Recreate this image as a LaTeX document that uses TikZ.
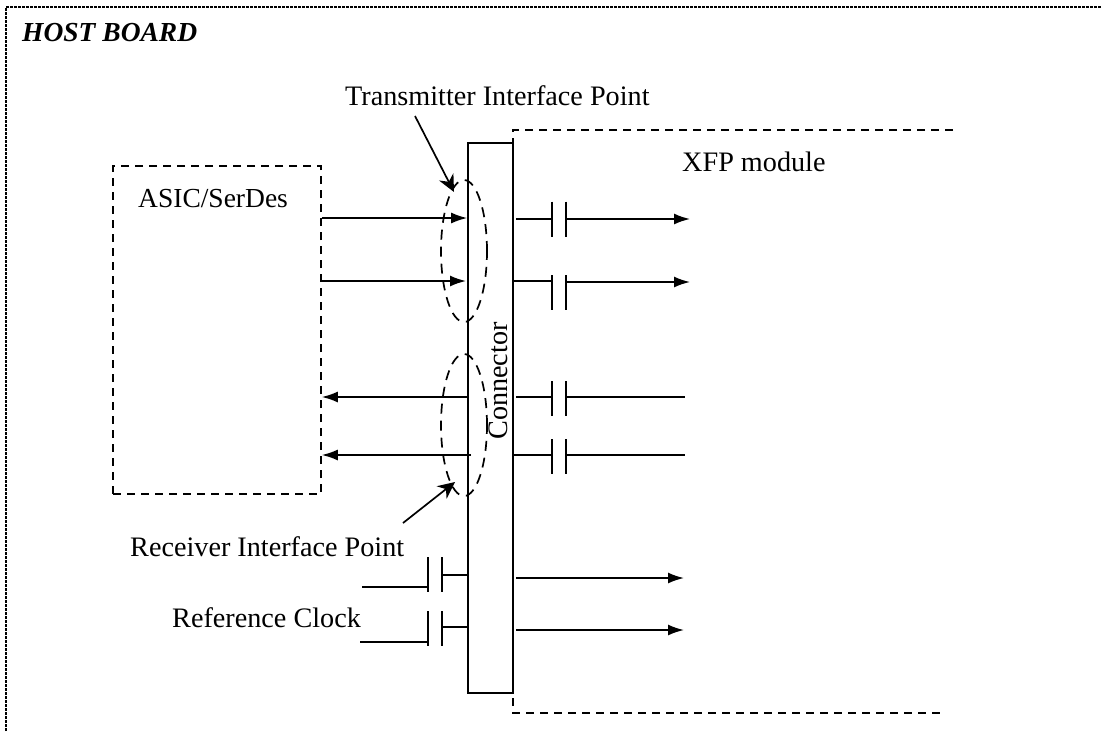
\documentclass[tikz,border=0pt]{standalone}
\usepackage{fontspec}
\setmainfont{Liberation Serif}
\usetikzlibrary{arrows.meta}
\tikzset{
  sig/.style={line width=1.7pt},
  sigarrow/.style={sig, -{Latex[length=16pt,width=11pt]}},
  pointer/.style={line width=1.7pt, -{Stealth[length=17pt,width=16pt]}},
  dashbox/.style={line width=1.6pt, dash pattern=on 8pt off 6pt},
  label/.style={font=\fontsize{28.2}{28.2}\selectfont, inner sep=0pt, anchor=base west},
  ring/.style={line width=1.7pt, dash pattern=on 10pt off 7pt}
}
% <name>{<x>}{<y>}: pair of plates with the link points (<name>l) and (<name>r)
\newcommand{\HBCap}[3]{%
\coordinate (#1l) at (#2,#3);
\coordinate (#1r) at (#2+14,#3);
\draw[sig] (#2,#3-17.5) -- (#2,#3+17.5);
\draw[sig] (#2+14,#3-17.5) -- (#2+14,#3+17.5);
}
\begin{document}
\begin{tikzpicture}[x=1pt,y=-1pt]
  \useasboundingbox (0,0) rectangle (1102,731);
  % host board frame:
  \coordinate (boardSW) at (6,731);
  \coordinate (boardNW) at (6,7);
  \coordinate (boardNE) at (1102,7);
  \draw[line width=1.8pt, dash pattern=on 3pt off 1pt] (boardSW) -- (boardNW) -- (boardNE);
  \node[label, font=\fontsize{27.5}{27.5}\selectfont\bfseries\itshape] (host) at (22,41) {HOST BOARD};
  %
  % module outline:
  \coordinate (modNE) at (953,130);
  \coordinate (modNW) at (513,130);
  \coordinate (modSW) at (513,713);
  \coordinate (modSE) at (941,713);
  \draw[dashbox] (modNE) -- (modNW) -- (modSW) -- (modSE);
  \node[label] (xfp) at (682,171) {XFP module};
  %
  % boxes:
  \node[draw, dashbox, minimum width=208pt, minimum height=328pt, inner sep=0pt] (asic) at (217,330) {};
  \node[label, font=\fontsize{27.5}{27.5}\selectfont] (asiclabel) at (138,207) {ASIC/SerDes};
  \node[draw, sig, minimum width=45pt, minimum height=550pt, inner sep=0pt] (conn) at (490.5,418) {};
  \node[font=\fontsize{28.2}{28.2}\selectfont, rotate=90, inner sep=0pt] (connlabel) at (498,381) {Connector};
  %
  % interface points:
  \draw[ring] (464,251) ellipse (23pt and 71pt);
  \draw[ring] (464,425) ellipse (23pt and 71pt);
  \node[label] (txlabel) at (345,105) {Transmitter Interface Point};
  \node[label] (rxlabel) at (130,556) {Receiver Interface Point};
  \node[label] (clklabel) at (172,627) {Reference Clock};
  \coordinate (txtail) at (415,116);
  \coordinate (txhead) at (454,192);
  \coordinate (rxtail) at (403,523);
  \coordinate (rxhead) at (455,482);
  \draw[pointer] (txtail) -- (txhead);
  \draw[pointer] (rxtail) -- (rxhead);
  %
  % asic side:
  \draw[sigarrow] (asic.east |- 0,218) -- (conn.west |- 0,218);
  \draw[sigarrow] (asic.east |- 0,281) -- (466,281);
  \draw[sigarrow] (conn.west |- 0,397) -- (asic.east |- 0,397);
  \draw[sigarrow] (471,455) -- (asic.east |- 0,455);
  %
  % module side:
  \HBCap{txa}{552}{219}
  \HBCap{txb}{552}{292.5}
  \HBCap{rxa}{552}{398.5}
  \HBCap{rxb}{552}{456.5}
  \draw[sig] (516,219) -- (txal);
  \draw[sigarrow] (txar) -- (690,219);
  \draw[sig] (conn.east |- 0,281) -- (txbl |- 0,281);
  \draw[sigarrow] (txbr |- 0,282) -- (690,282);
  \draw[sig] (516,397) -- (rxal |- 0,397);
  \draw[sig] (rxar |- 0,397) -- (685,397);
  \draw[sig] (conn.east |- 0,455) -- (rxbl |- 0,455);
  \draw[sig] (rxbr |- 0,455) -- (685,455);
  \draw[sigarrow] (516,578) -- (684,578);
  \draw[sigarrow] (516,630) -- (684,630);
  %
  % reference clock:
  \HBCap{clka}{428}{574.5}
  \HBCap{clkb}{428}{628.5}
  \draw[sig] (362,587) -- (clkal |- 0,587);
  \draw[sig] (clkar |- 0,575) -- (conn.west |- 0,575);
  \draw[sig] (360,642) -- (clkbl |- 0,642);
  \draw[sig] (clkbr |- 0,627) -- (conn.west |- 0,627);
\end{tikzpicture}
\end{document}
